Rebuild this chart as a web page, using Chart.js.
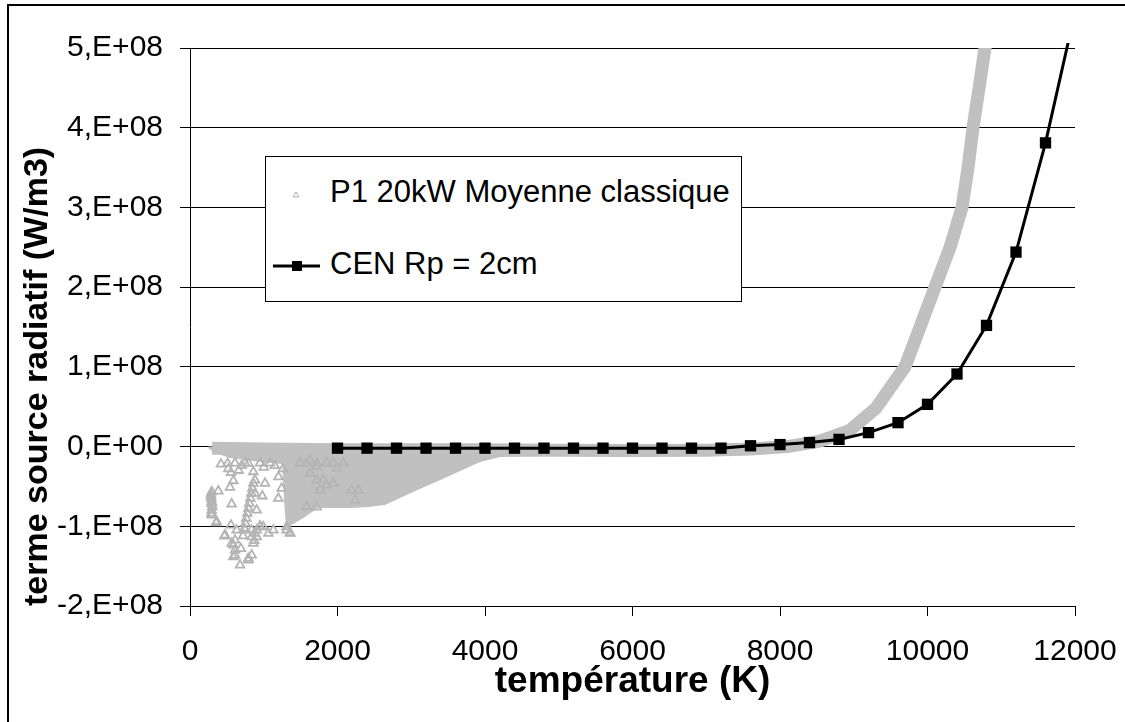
<!DOCTYPE html>
<html>
<head>
<meta charset="utf-8">
<script src="https://cdn.jsdelivr.net/npm/chart.js"></script>
<style>
  body { margin: 0; background: #fff; overflow: hidden; }
  #wrap { position: relative; width: 1125px; height: 722px; }
  #frame { position: absolute; left: 7px; top: 4px; width: 1200px; height: 800px;
           border-left: 2px solid #000; border-top: 2px solid #000; pointer-events: none; }
  #legend { position: absolute; left: 265px; top: 156px; width: 477px; height: 146px;
            box-sizing: border-box; border: 1px solid #000; background: #fff;
            font-family: "Liberation Sans", Arial, sans-serif; font-size: 31px; line-height: 34px; color: #000; }
  #legend span { position: absolute; left: 64px; white-space: nowrap; }
  #legend svg { position: absolute; left: 0; top: 0; }
</style>
</head>
<body>
<div id="wrap">
  <canvas id="chart" width="1125" height="722"></canvas>
  <div id="legend">
    <svg width="475" height="144">
      <polygon points="27,40 33,40 30,35" fill="none" stroke="#b0b0b0" stroke-width="1"/>
      <line x1="7" y1="109" x2="54" y2="109" stroke="#000" stroke-width="3"/>
      <rect x="26" y="104" width="10" height="10" fill="#000"/>
    </svg>
    <span style="top:18px">P1 20kW Moyenne classique</span>
    <span style="top:90px">CEN Rp = 2cm</span>
  </div>
  <div id="frame"></div>
</div>
<script>
// CEN Rp = 2cm (line with square markers)
const tempCEN = [2000, 2400, 2800, 3200, 3600, 4000, 4400, 4800, 5200, 5600, 6000, 6400, 6800,
  7200, 7600, 8000, 8400, 8800, 9200, 9600, 10000, 10400, 10800, 11200, 11600, 12000];
const sourceCEN = [-2e6, -2e6, -2e6, -2e6, -2e6, -2e6, -2e6, -2e6, -2e6, -2e6, -2e6, -2e6, -2e6,
  -2e6, 1e6, 2.5e6, 5e6, 9e6, 1.75e7, 3.0e7, 5.3e7, 9.1e7, 1.52e8, 2.44e8, 3.81e8, 5.45e8];

// P1 20kW : dense band of points (centre line of the band)
const tempP1Band = [300, 1000, 2000, 3000, 4000, 5000, 6000, 7000, 7600, 8100, 8540, 8940, 9300,
  9695, 9899, 10102, 10306, 10468, 10550, 10617, 10699, 10780, 10800];
const sourceP1Band = [-2e6, -3e6, -4e6, -4e6, -4e6, -4.5e6, -5e6, -4.5e6, -3e6, 0, 6.9e6, 2.0e7, 4.8e7,
  1.0e8, 1.5e8, 2.0e8, 2.5e8, 3.0e8, 3.5e8, 4.0e8, 4.5e8, 5.0e8, 5.1e8];

// P1 20kW : lower edge of the dense cloud at low temperature
const tempP1Low = [244, 339, 542, 949, 1248, 1275, 1302, 1424, 1559, 1654, 1736, 1966, 2197,
  2414, 2644, 3024, 3485, 3932, 4204, 5017, 6000, 7000, 7600];
const sourceP1Low = [-1.9e6, -8.2e6, -14.4e6, -19.4e6, -21.9e6, -67.1e6, -102.2e6, -95.9e6, -88.5e6,
  -82.2e6, -77.2e6, -77.2e6, -77.2e6, -75.9e6, -73.4e6, -57.1e6, -38.3e6, -19.4e6, -13.2e6,
  -11.9e6, -12e6, -11e6, -8e6];

// P1 20kW : scattered points
const tempP1Pts = [294, 384, 285, 294, 303, 294, 362, 466, 565, 542, 588, 556, 511, 610, 588, 610,
  678, 791, 836, 556, 633, 746, 949, 994, 1062, 1130, 1017, 881, 859, 881, 904, 1243, 1198, 1198,
  1311, 1356, 791, 610, 746, 949, 1085, 1492, 1582, 1718, 1853, 1944, 2079, 1718, 1763, 1627, 1853,
  1582, 1718, 2192, 2283, 2237, 859, 845, 832, 818, 804, 791, 777, 764, 750, 737, 836, 904, 836,
  904, 859, 949, 880, 870, 475, 565, 610, 588, 791, 1311, 1356, 353, 294, 285, 290, 294, 294,
  1718, 1808, 1944, 1627, 1989, 420, 700, 520, 660, 1000, 1150, 1260, 980, 720, 690];
const sourceP1Pts = [-56.7e6, -55.8e6, -62.9e6, -69.2e6, -75.5e6, -83.9e6, -94.3e6, -112.3e6,
  -72.1e6, -51.2e6, -42.9e6, -32.8e6, -21.1e6, -117.3e6, -123.6e6, -136.1e6, -148.7e6, -140.3e6,
  -136.1e6, -98.5e6, -104.8e6, -104.8e6, -99.7e6, -100.6e6, -108.9e6, -104.8e6, -46.2e6, -42.0e6,
  -31.6e6, -58.8e6, -79.7e6, -52.5e6, -37.9e6, -65.0e6, -104.8e6, -108.1e6, -21.1e6, -20.7e6,
  -20.7e6, -20.7e6, -20.7e6, -20.7e6, -20.7e6, -20.7e6, -20.7e6, -20.7e6, -20.7e6, -42.0e6,
  -54.6e6, -33.7e6, -48.3e6, -75.5e6, -76e6, -54.6e6, -54.6e6, -67.1e6, -46.2e6, -52.5e6, -58.8e6,
  -65.0e6, -71.3e6, -77.6e6, -83.9e6, -90.1e6, -96.4e6, -102.7e6, -104.8e6, -104.8e6, -113.2e6,
  -113.2e6, -121.5e6, -100.6e6, -109e6, -118e6, -111.0e6, -121.5e6, -129.9e6, -138.2e6, -142.4e6,
  -100.6e6, -108.9e6, -95.6e6, -85.9e6, -60e6, -66e6, -72e6, -80e6, -25.3e6, -42.0e6, -46.2e6,
  -16.9e6, -27.4e6, -22e6, -24e6, -28e6, -30e6, -26e6, -24e6, -28e6, -62e6, -112e6, -128e6];

const xTicks = [0, 2000, 4000, 6000, 8000, 10000, 12000];

const GREY = '#c0c0c0';
const xy = (xs, ys) => xs.map((x, i) => ({ x: x, y: ys[i] }));
const font = { family: '"Liberation Sans", Arial, sans-serif', size: 30 };
const xTitleFont = { family: '"Liberation Sans", Arial, sans-serif', size: 37, weight: 'bold' };
const yTitleFont = { family: '"Liberation Sans", Arial, sans-serif', size: 34, weight: 'bold' };

new Chart(document.getElementById('chart'), {
  type: 'line',
  data: {
    datasets: [
      {
        label: 'CEN Rp = 2cm',
        data: xy(tempCEN, sourceCEN),
        borderColor: '#000',
        borderWidth: 3,
        pointStyle: 'rect',
        pointRadius: 8,
        pointBackgroundColor: '#000',
        pointBorderColor: '#000',
        pointBorderWidth: 0,
        tension: 0,
        clip: 5
      },
      {
        label: 'P1 20kW Moyenne classique',
        data: xy(tempP1Pts, sourceP1Pts),
        showLine: false,
        pointStyle: 'triangle',
        pointRadius: 5,
        pointBorderColor: '#b4b4b4',
        pointBorderWidth: 1.8,
        pointBackgroundColor: 'rgba(0,0,0,0)'
      },
      {
        label: 'band',
        data: xy(tempP1Band, sourceP1Band),
        borderColor: GREY,
        borderWidth: 13,
        borderJoinStyle: 'round',
        pointRadius: 0,
        tension: 0,
        clip: 0
      },
      {
        label: 'cloud',
        data: xy(tempP1Low, sourceP1Low),
        borderWidth: 0,
        backgroundColor: GREY,
        fill: 'origin',
        pointRadius: 0,
        tension: 0
      }
    ]
  },
  options: {
    responsive: false,
    animation: false,
    events: [],
    layout: { padding: { top: 48, right: 0, bottom: 0, left: 0 } },
    plugins: { legend: { display: false }, tooltip: { enabled: false } },
    scales: {
      x: {
        type: 'linear',
        min: 0,
        max: 12000,
        afterBuildTicks: s => { s.ticks = xTicks.map(v => ({ value: v })); },
        afterFit: s => { s.height = 116; s.paddingRight = 50; s.paddingLeft = 0; },
        ticks: { color: '#000', font: font, padding: 18, maxRotation: 0, callback: v => String(v) },
        grid: { drawOnChartArea: false, drawTicks: true, tickLength: 10, tickColor: '#000' },
        border: { color: '#000', width: 1 },
        title: { display: true, text: 'température (K)', color: '#000', font: xTitleFont,
                 padding: { top: 0, bottom: 18 } }
      },
      y: {
        min: -2e8,
        max: 5e8,
        afterFit: s => { s.width = 190; },
        ticks: {
          stepSize: 1e8, color: '#000', font: font, padding: 17,
          callback: v => Math.round(v / 1e8) + ',E+' + (v === 0 ? '00' : '08')
        },
        grid: { color: '#000', lineWidth: 1, tickLength: 10, tickColor: '#000' },
        border: { color: '#000', width: 1 },
        title: { display: true, text: 'terme source radiatif (W/m3)', color: '#000', font: yTitleFont,
                 align: 'start', padding: { top: 17, bottom: 0 } }
      }
    }
  }
});
</script>
</body>
</html>
